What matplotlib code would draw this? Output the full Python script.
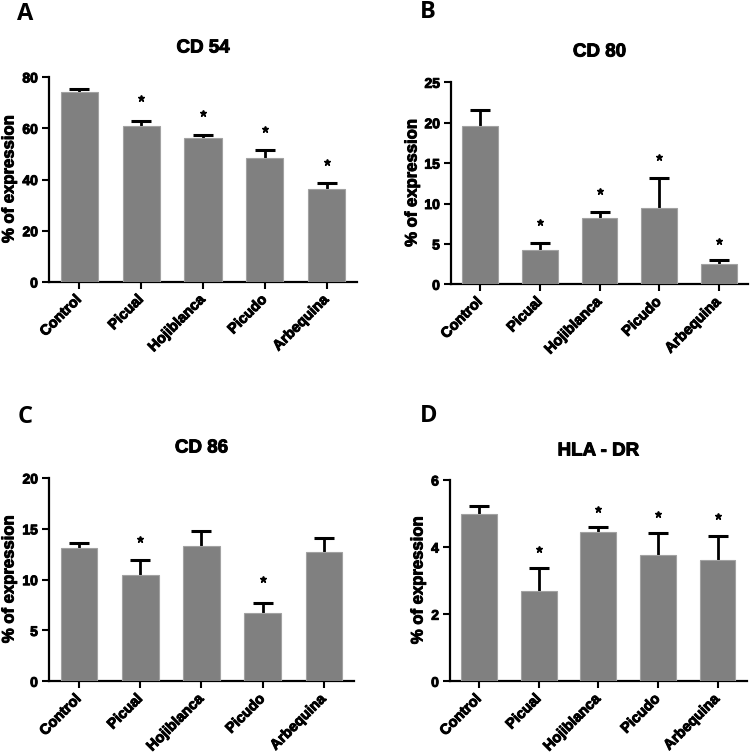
import matplotlib
matplotlib.use("Agg")
import matplotlib.pyplot as plt
import matplotlib.patheffects as pe
import numpy as np

plt.rcParams['font.family'] = ['Liberation Sans', 'DejaVu Sans']
plt.rcParams['font.weight'] = 'bold'

categories = ["Control", "Picual", "Hojiblanca", "Picudo", "Arbequina"]

cd54_mean = [74.2, 61.0, 56.1, 48.5, 36.4]
cd54_err = [1.2, 1.8, 1.4, 2.9, 2.2]
cd54_star = [None, 72.0, 66.0, 59.6, 46.7]

cd80_mean = [19.6, 4.25, 8.25, 9.4, 2.5]
cd80_err = [2.0, 0.9, 0.7, 3.8, 0.5]
cd80_star = [None, 7.75, 11.5, 15.7, 5.4]

cd86_mean = [13.1, 10.5, 13.3, 6.7, 12.75]
cd86_err = [0.5, 1.4, 1.5, 1.0, 1.35]
cd86_star = [None, 14.0, None, 10.1, None]

hla_mean = [5.0, 2.69, 4.45, 3.77, 3.61]
hla_err = [0.22, 0.70, 0.16, 0.65, 0.71]
hla_star = [None, 3.93, 5.13, 4.98, 4.93]

panels = [
    dict(letter="A", title="CD 54", mean=cd54_mean, err=cd54_err, star=cd54_star,
         ylim=80, yticks=[0, 20, 40, 60, 80],
         box=(49, 357, 77, 282), title_y=48, ylab_x=9, letter_xy=(25, 14)),
    dict(letter="B", title="CD 80", mean=cd80_mean, err=cd80_err, star=cd80_star,
         ylim=25, yticks=[0, 5, 10, 15, 20, 25],
         box=(451, 748, 82.3, 284.3), title_y=52, ylab_x=412, letter_xy=(428, 12)),
    dict(letter="C", title="CD 86", mean=cd86_mean, err=cd86_err, star=cd86_star,
         ylim=20, yticks=[0, 5, 10, 15, 20],
         box=(49, 354, 478, 681.3), title_y=448, ylab_x=9, letter_xy=(25, 417)),
    dict(letter="D", title="HLA - DR", mean=hla_mean, err=hla_err, star=hla_star,
         ylim=6, yticks=[0, 2, 4, 6],
         box=(450, 746.7, 480, 681.3), title_y=451, ylab_x=418, letter_xy=(429, 416)),
]

heavy = [pe.withStroke(linewidth=0.7, foreground='black')]

W, H = 750, 753
fig = plt.figure(figsize=(W / 100, H / 100), dpi=100)

for p in panels:
    l, r, t, b = p["box"]
    ax = fig.add_axes([l / W, 1 - b / H, (r - l) / W, (b - t) / H])
    x = np.arange(len(categories))
    ax.errorbar(x, p["mean"], yerr=p["err"], fmt='none', ecolor='black',
                elinewidth=2.0, capsize=7.2, capthick=2.2, zorder=2)
    ax.bar(x, p["mean"], width=0.6, color='#808080', edgecolor='#a2a2a2',
           linewidth=0.8, zorder=3)
    sx = [xi for xi, s in zip(x, p["star"]) if s is not None]
    sy = [s for s in p["star"] if s is not None]
    ax.plot(sx, sy, linestyle='none', marker='*', color='black', markersize=5, zorder=4)
    ax.set_xlim(-0.49, len(categories) - 0.51)
    ax.set_ylim(0, p["ylim"])
    ax.set_yticks(p["yticks"])
    ax.set_xticks(x)
    ax.set_xticklabels(categories, rotation=45, ha='right', va='center',
                       rotation_mode='anchor', fontsize=10.5, fontweight='bold')
    for lab in ax.get_xticklabels() + ax.get_yticklabels():
        lab.set_path_effects(heavy)
    for lab in ax.get_yticklabels():
        lab.set_fontsize(10)
        lab.set_fontweight('bold')
    ax.tick_params(axis='both', direction='out', length=5, width=1.5, pad=3)
    ax.tick_params(axis='x', pad=6)
    for s in ['top', 'right']:
        ax.spines[s].set_visible(False)
    for s in ['left', 'bottom']:
        ax.spines[s].set_linewidth(1.6)
    fig.text(((l + r) / 2) / W, 1 - p["title_y"] / H, p["title"], ha='center', va='center',
             fontsize=13.5, fontweight='bold', path_effects=heavy)
    fig.text(p["ylab_x"] / W, 1 - ((t + b) / 2) / H, "% of expression", rotation=90,
             ha='center', va='center', fontsize=12, fontweight='bold', path_effects=heavy)
    fig.text(p["letter_xy"][0] / W, 1 - p["letter_xy"][1] / H, p["letter"],
             ha='center', va='center', fontsize=17, fontweight='bold',
             family=['Open Sans', 'DejaVu Sans'])

fig.savefig("out.png", dpi=100)
